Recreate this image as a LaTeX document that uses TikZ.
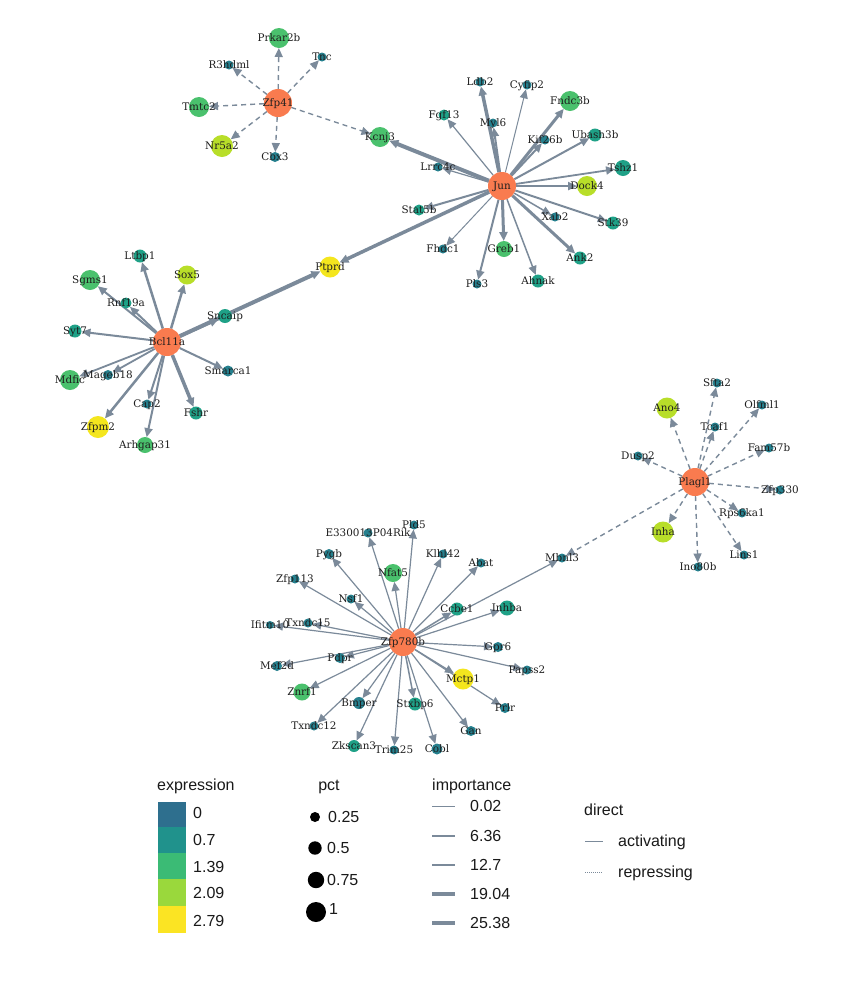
\documentclass[tikz,border=0pt]{standalone}
\usepackage{fontspec}
\setmainfont{DejaVu Serif}
\newfontfamily\legfont{Liberation Sans}
\usetikzlibrary{arrows.meta}
\pgfdeclarelayer{bg}
\pgfdeclarelayer{fg}
\pgfsetlayers{bg,main,fg}
\definecolor{hub}{HTML}{F97B4F}
\definecolor{cA}{HTML}{26808E}
\definecolor{cB}{HTML}{1FA187}
\definecolor{cC}{HTML}{4AC16D}
\definecolor{cD}{HTML}{B8DE29}
\definecolor{cE}{HTML}{F4E61E}
\definecolor{edgecol}{HTML}{7B8A9A}
\definecolor{labeltext}{HTML}{1E1E1E}
\definecolor{legtext}{HTML}{1A1A1A}
\definecolor{leg0}{HTML}{2E6F8E}
\definecolor{leg1}{HTML}{20928C}
\definecolor{leg2}{HTML}{3BBB75}
\definecolor{leg3}{HTML}{9AD83C}
\definecolor{leg4}{HTML}{FBE423}
\tikzset{
  gnode/.style={circle, inner sep=0pt, outer sep=0pt, draw=none},
  lbl/.style={font=\fontsize{10.4}{12}\selectfont, text=labeltext, inner sep=0pt, text height=7.5pt, text depth=0pt},
  edge/.style={draw=edgecol, -{Triangle[length=9pt,width=8pt]}},
  rep/.style={edge, dash pattern=on 5pt off 4pt},
  legtxt/.style={font=\legfont\fontsize{16}{18}\selectfont, text=legtext, inner sep=0pt, anchor=west, text height=11.5pt, text depth=0pt},
  legline/.style={draw=edgecol, line cap=butt},
}
\newcommand{\gn}[6]{\node[gnode, fill=#5, minimum size=#4*2pt] (#1) at (#2,#3) {};
  \begin{pgfonlayer}{fg}\node[lbl] at (#2,#3) {#6};\end{pgfonlayer}}
\newcommand{\ea}[3]{\draw[edge, line width=#3pt] (#1) -- (#2);}
\newcommand{\er}[3]{\draw[rep, line width=#3pt] (#1) -- (#2);}
\begin{document}
\begin{tikzpicture}[x=1pt,y=-1pt]
\begin{pgfonlayer}{bg}
\fill[white] (0,0) rectangle (841,986);
\end{pgfonlayer}
\useasboundingbox (0,0) rectangle (841,986);

% ---------------- Zfp41 cluster
\gn{Zfp41}{278}{103}{14}{hub}{Zfp41}
\gn{Prkar2b}{279}{38}{10}{cC}{Prkar2b}
\gn{Tnc}{322}{57}{4.5}{cA}{Tnc}
\gn{R3hdml}{229}{65}{4.5}{cA}{R3hdml}
\gn{Tmtc2}{199}{107}{10}{cC}{Tmtc2}
\gn{Nr5a2}{222}{146}{11}{cD}{Nr5a2}
\gn{Cbx3}{275}{157}{5}{cA}{Cbx3}
\gn{Kcnj3}{380}{137}{10}{cC}{Kcnj3}

% ---------------- Jun cluster
\gn{Jun}{502}{186}{14}{hub}{Jun}
\gn{Ldb2}{480}{82}{4.5}{cA}{Ldb2}
\gn{Cyfip2}{527}{85}{4.5}{cA}{Cyfip2}
\gn{Fndc3b}{570}{101}{10}{cC}{Fndc3b}
\gn{Fgf13}{444}{115}{5.5}{cB}{Fgf13}
\gn{Myl6}{493}{123}{4.5}{cA}{Myl6}
\gn{Kif26b}{545}{140}{4.5}{cA}{Kif26b}
\gn{Ubash3b}{595}{135}{6.5}{cB}{Ubash3b}
\gn{Lrrc4c}{438}{167}{4.5}{cA}{Lrrc4c}
\gn{Tshz1}{623}{168}{8}{cB}{Tshz1}
\gn{Dock4}{587}{186}{10}{cD}{Dock4}
\gn{Stat5b}{419}{210}{5.5}{cB}{Stat5b}
\gn{Xab2}{555}{217}{4.5}{cA}{Xab2}
\gn{Stk39}{613}{223}{6.5}{cB}{Stk39}
\gn{Fhdc1}{443}{249}{4.5}{cA}{Fhdc1}
\gn{Greb1}{504}{249}{8}{cC}{Greb1}
\gn{Ank2}{580}{258}{6.5}{cB}{Ank2}
\gn{Pls3}{477}{284}{4.5}{cA}{Pls3}
\gn{Ahnak}{538}{281}{6.5}{cB}{Ahnak}

% ---------------- Bcl11a cluster
\gn{Bcl11a}{167}{342}{14}{hub}{Bcl11a}
\gn{Ptprd}{330}{267}{10.5}{cE}{Ptprd}
\gn{Ltbp1}{140}{256}{6.5}{cB}{Ltbp1}
\gn{Sox5}{187}{275}{9.5}{cD}{Sox5}
\gn{Sgms1}{90}{280}{10}{cC}{Sgms1}
\gn{Rnf19a}{126}{303}{5.5}{cB}{Rnf19a}
\gn{Sncaip}{225}{316}{7}{cB}{Sncaip}
\gn{Syt7}{75}{331}{6.5}{cB}{Syt7}
\gn{Mageb18}{108}{375}{5}{cA}{Mageb18}
\gn{Smarca1}{228}{371}{5.5}{cA}{Smarca1}
\gn{Mdfic}{70}{380}{10}{cC}{Mdfic}
\gn{Cap2}{147}{404}{4.5}{cA}{Cap2}
\gn{Fshr}{196}{413}{6.5}{cB}{Fshr}
\gn{Zfpm2}{98}{427}{11}{cE}{Zfpm2}
\gn{Arhgap31}{145}{445}{8}{cC}{Arhgap31}

% ---------------- Plagl1 cluster
\gn{Plagl1}{695}{482}{14}{hub}{Plagl1}
\gn{Sfta2}{717}{383}{4.5}{cA}{Sfta2}
\gn{Ano4}{667}{408}{10.5}{cD}{Ano4}
\gn{Olfml1}{762}{405}{4.5}{cA}{Olfml1}
\gn{Tcaf1}{715}{427}{4.5}{cA}{Tcaf1}
\gn{Fam57b}{769}{448}{4.5}{cA}{Fam57b}
\gn{Dusp2}{638}{456}{4.5}{cA}{Dusp2}
\gn{Zfp330}{780}{490}{4.5}{cA}{Zfp330}
\gn{Rps6ka1}{742}{513}{4.5}{cA}{Rps6ka1}
\gn{Inha}{663}{532}{10.5}{cD}{Inha}
\gn{Lins1}{744}{555}{4.5}{cA}{Lins1}
\gn{Ino80b}{698}{567}{4.5}{cA}{Ino80b}
\gn{Mbnl3}{562}{558}{4.5}{cA}{Mbnl3}

% ---------------- Zfp780b cluster
\gn{Zfp780b}{403}{642}{14}{hub}{Zfp780b}
\gn{Pld5}{414}{525}{4.5}{cA}{Pld5}
\gn{E330}{368}{533}{4.5}{cA}{E330013P04Rik}
\gn{Pygb}{329}{554}{5}{cA}{Pygb}
\gn{Klhl42}{443}{554}{4.5}{cA}{Klhl42}
\gn{Nfat5}{393}{573}{9}{cC}{Nfat5}
\gn{Abat}{481}{563}{4.5}{cA}{Abat}
\gn{Zfp113}{295}{579}{4.5}{cA}{Zfp113}
\gn{Nsf1}{351}{599}{4.5}{cA}{Nsf1}
\gn{Ccbe1}{457}{609}{6.5}{cB}{Ccbe1}
\gn{Inhba}{507}{608}{7.5}{cB}{Inhba}
\gn{Ifitm10}{270}{625}{4}{cA}{Ifitm10}
\gn{Txndc15}{308}{623}{4.5}{cA}{Txndc15}
\gn{Gpr6}{498}{647}{5}{cA}{Gpr6}
\gn{Papss2}{527}{670}{4.5}{cA}{Papss2}
\gn{Pdpr}{340}{658}{5}{cA}{Pdpr}
\gn{Mef2d}{277}{666}{5}{cA}{Mef2d}
\gn{Mctp1}{463}{679}{10.5}{cE}{Mctp1}
\gn{Znrf1}{302}{692}{8.5}{cC}{Znrf1}
\gn{Bmper}{359}{703}{6}{cA}{Bmper}
\gn{Stxbp6}{415}{704}{6.5}{cB}{Stxbp6}
\gn{Prlr}{505}{708}{5}{cA}{Prlr}
\gn{Txndc12}{314}{726}{4.5}{cA}{Txndc12}
\gn{Gan}{471}{731}{5}{cA}{Gan}
\gn{Zkscan3}{354}{746}{6}{cB}{Zkscan3}
\gn{Trim25}{394}{750}{4.5}{cA}{Trim25}
\gn{Cobl}{437}{749}{5.5}{cA}{Cobl}

% ---------------- edges
\begin{pgfonlayer}{bg}
\er{Zfp41}{Prkar2b}{1.4}
\er{Zfp41}{Tnc}{1.4}
\er{Zfp41}{R3hdml}{1.4}
\er{Zfp41}{Tmtc2}{1.4}
\er{Zfp41}{Nr5a2}{1.4}
\er{Zfp41}{Cbx3}{1.4}
\er{Zfp41}{Kcnj3}{1.4}

\ea{Jun}{Kcnj3}{4}
\ea{Jun}{Ptprd}{3.5}
\ea{Jun}{Ldb2}{3.5}
\ea{Jun}{Myl6}{2}
\ea{Jun}{Cyfip2}{1}
\ea{Jun}{Fgf13}{1.2}
\ea{Jun}{Fndc3b}{3}
\ea{Jun}{Kif26b}{2}
\ea{Jun}{Ubash3b}{2}
\ea{Jun}{Lrrc4c}{1.2}
\ea{Jun}{Tshz1}{1.8}
\ea{Jun}{Dock4}{2.5}
\ea{Jun}{Stat5b}{2}
\ea{Jun}{Xab2}{1.5}
\ea{Jun}{Stk39}{2}
\ea{Jun}{Fhdc1}{1}
\ea{Jun}{Greb1}{3}
\ea{Jun}{Ank2}{3}
\ea{Jun}{Pls3}{2}
\ea{Jun}{Ahnak}{1.5}

\ea{Bcl11a}{Ltbp1}{2.5}
\ea{Bcl11a}{Sox5}{2.5}
\ea{Bcl11a}{Sgms1}{2}
\ea{Bcl11a}{Rnf19a}{2}
\ea{Bcl11a}{Syt7}{2}
\ea{Bcl11a}{Sncaip}{3}
\ea{Bcl11a}{Ptprd}{4}
\ea{Bcl11a}{Smarca1}{2}
\ea{Bcl11a}{Mageb18}{1.8}
\ea{Bcl11a}{Mdfic}{1.8}
\ea{Bcl11a}{Cap2}{2}
\ea{Bcl11a}{Arhgap31}{2}
\ea{Bcl11a}{Fshr}{3.5}
\ea{Bcl11a}{Zfpm2}{2.5}

\er{Plagl1}{Sfta2}{1.4}
\er{Plagl1}{Ano4}{1.4}
\er{Plagl1}{Olfml1}{1.4}
\er{Plagl1}{Tcaf1}{1.4}
\er{Plagl1}{Fam57b}{1.4}
\er{Plagl1}{Dusp2}{1.4}
\er{Plagl1}{Zfp330}{1.4}
\er{Plagl1}{Rps6ka1}{1.4}
\er{Plagl1}{Inha}{1.4}
\er{Plagl1}{Lins1}{1.4}
\er{Plagl1}{Ino80b}{1.4}
\er{Plagl1}{Mbnl3}{1.4}

\ea{Zfp780b}{Pld5}{1.2}
\ea{Zfp780b}{E330}{1.2}
\ea{Zfp780b}{Pygb}{1.2}
\ea{Zfp780b}{Klhl42}{1.2}
\ea{Zfp780b}{Nfat5}{1.2}
\ea{Zfp780b}{Abat}{1.2}
\ea{Zfp780b}{Zfp113}{1.2}
\ea{Zfp780b}{Nsf1}{1.2}
\ea{Zfp780b}{Ccbe1}{1.5}
\ea{Zfp780b}{Inhba}{1.2}
\ea{Zfp780b}{Mbnl3}{1.2}
\ea{Zfp780b}{Ifitm10}{1.2}
\ea{Zfp780b}{Txndc15}{1.2}
\ea{Zfp780b}{Gpr6}{1.2}
\ea{Zfp780b}{Papss2}{1.2}
\ea{Zfp780b}{Pdpr}{1.2}
\ea{Zfp780b}{Mef2d}{1.2}
\ea{Zfp780b}{Mctp1}{1.2}
\ea{Zfp780b}{Znrf1}{1.2}
\ea{Zfp780b}{Bmper}{1.2}
\ea{Zfp780b}{Stxbp6}{1.5}
\ea{Zfp780b}{Prlr}{1.2}
\ea{Zfp780b}{Txndc12}{1.2}
\ea{Zfp780b}{Gan}{1.2}
\ea{Zfp780b}{Zkscan3}{1.2}
\ea{Zfp780b}{Trim25}{1.2}
\ea{Zfp780b}{Cobl}{1.2}
\end{pgfonlayer}

% ---------------- legend: expression
\node[legtxt] (lexp) at (157,785) {expression};
\fill[leg0] (158,802) rectangle (186,827);
\fill[leg1] (158,827) rectangle (186,853);
\fill[leg2] (158,853) rectangle (186,879);
\fill[leg3] (158,879) rectangle (186,906);
\fill[leg4] (158,906) rectangle (186,933);
\node[legtxt] (le0) at (193,813) {0};
\node[legtxt] (le1) at (193,840) {0.7};
\node[legtxt] (le2) at (193,867) {1.39};
\node[legtxt] (le3) at (193,893) {2.09};
\node[legtxt] (le4) at (193,921) {2.79};

% ---------------- legend: pct
\node[legtxt, anchor=center] (lpct) at (329,785) {pct};
\fill[black] (315,817) circle (5);
\fill[black] (315,848) circle (6.7);
\fill[black] (316,880) circle (8.2);
\fill[black] (316,912) circle (10);
\node[legtxt] (lp1) at (328,817) {0.25};
\node[legtxt] (lp2) at (327,848) {0.5};
\node[legtxt] (lp3) at (327,880) {0.75};
\node[legtxt] (lp4) at (329,909) {1};

% ---------------- legend: importance
\node[legtxt] (limp) at (432,785) {importance};
\draw[legline, line width=1pt] (432,806) -- (455,806);
\draw[legline, line width=1.8pt] (432,836) -- (455,836);
\draw[legline, line width=2.8pt] (432,865) -- (455,865);
\draw[legline, line width=3.8pt] (432,894) -- (455,894);
\draw[legline, line width=4.8pt] (432,923) -- (455,923);
\node[legtxt] (li1) at (470,806) {0.02};
\node[legtxt] (li2) at (470,836) {6.36};
\node[legtxt] (li3) at (470,865) {12.7};
\node[legtxt] (li4) at (470,894) {19.04};
\node[legtxt] (li5) at (470,923) {25.38};

% ---------------- legend: direct
\node[legtxt] (ldir) at (584,810) {direct};
\draw[legline, line width=0.8pt] (585,841) -- (603,841);
\draw[legline, line width=0.8pt, dash pattern=on 1pt off 1pt] (585,872) -- (603,872);
\node[legtxt] (lact) at (618,841) {activating};
\node[legtxt] (lrep) at (618,872) {repressing};
\end{tikzpicture}
\end{document}
